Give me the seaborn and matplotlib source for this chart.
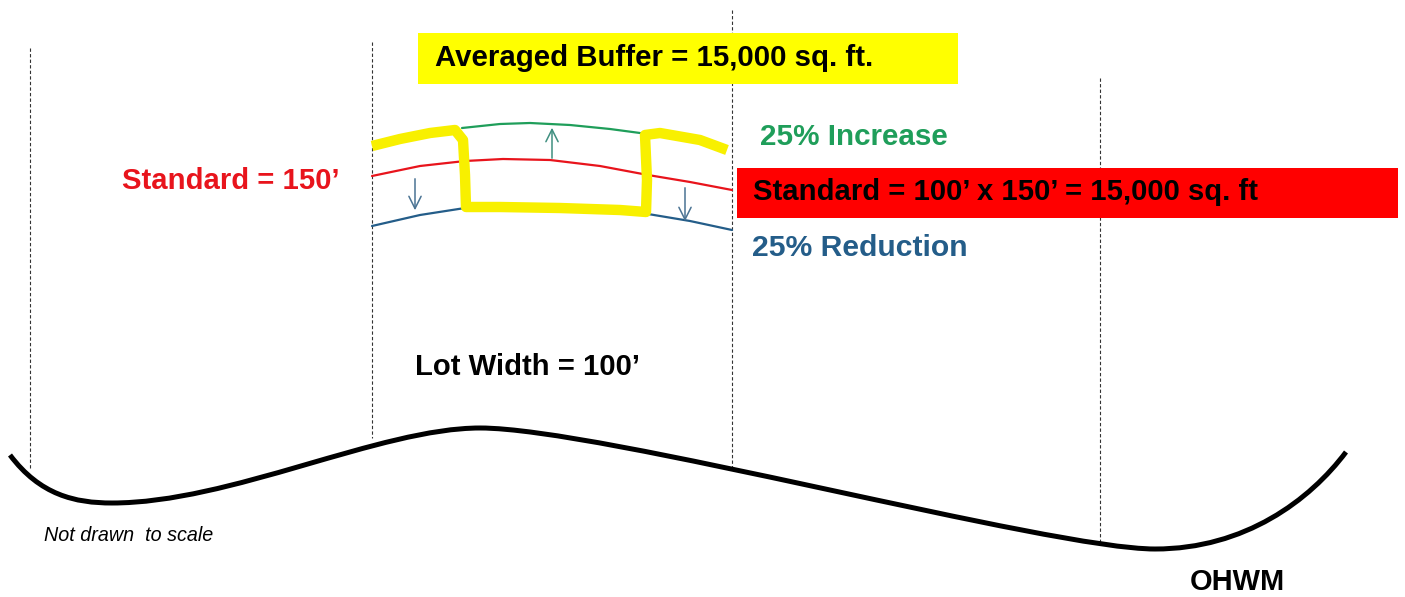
import numpy as np
import pandas as pd
import seaborn as sns
import matplotlib.pyplot as plt
from matplotlib.path import Path
from matplotlib.patches import PathPatch, Rectangle

# Diagram is laid out in image pixel units (x to the right, y downwards)

# Lot lines (dashed verticals)
lot_x = [30, 372, 732, 1100]
lot_top = [48, 42, 10, 78]
lot_bottom = [470, 438, 468, 545]

# Shoreline (OHWM), cubic bezier control points
shore_pts = [(10, 455), (40, 495), (75, 503), (112, 503),
             (230, 503), (380, 428), (480, 428),
             (600, 428), (1050, 549), (1155, 549),
             (1245, 549), (1310, 500), (1346, 452)]

# Buffer lines across the middle lot
standard_x = [372, 420, 465, 503, 550, 600, 648, 690, 732]
standard_y = [176, 166, 161, 159, 160, 166, 175, 182, 190]
increase_x = [462, 500, 530, 570, 610, 640]
increase_y = [128, 124, 123, 125, 129, 133]
reduce_left_x = [372, 420, 465]
reduce_left_y = [226, 215, 208]
reduce_right_x = [648, 690, 732]
reduce_right_y = [214, 221, 230]

# Averaged buffer (yellow highlighter stroke)
avg_x = [372, 400, 430, 455, 463, 465, 466, 500, 560, 620, 646, 647, 645, 660, 700, 727]
avg_y = [146, 139, 133, 130, 140, 175, 207, 207, 208, 210, 212, 180, 135, 133, 140, 150]

# Arrows: (x, y_from, y_to, colour)
arrows = [(552, 161, 125, '#3f8f80'),
          (415, 176, 213, '#4a7393'),
          (685, 185, 224, '#4a7393')]

# Labels: (text, left x, right x, baseline y, colour, style)
labels = [
    ('Averaged Buffer = 15,000 sq. ft.', 435, 872, 66, 'black', 'bold'),
    ('25% Increase', 760, 948, 145, '#1f9e5a', 'bold'),
    ('Standard = 100\u2019 x 150\u2019 = 15,000 sq. ft', 753, 1257, 200, 'black', 'bold'),
    ('25% Reduction', 752, 968, 256, '#245d89', 'bold'),
    ('Standard = 150\u2019', 122, 339, 189, '#e8141c', 'bold'),
    ('Lot Width = 100\u2019', 415, 640, 375, 'black', 'bold'),
    ('OHWM', 1190, 1285, 590, 'black', 'bold'),
    ('Not drawn  to scale', 44, 213, 541, 'black', 'italic'),
]

sns.set_style('white')
plt.rcParams['font.family'] = ['Liberation Sans', 'DejaVu Sans']

fig = plt.figure(figsize=(14.05, 5.97), dpi=100)
ax = fig.add_axes([0, 0, 1, 1])
ax.set_xlim(0, 1405)
ax.set_ylim(597, 0)
ax.axis('off')

# dashed lot lines
ax.vlines(lot_x, lot_top, lot_bottom, colors='#333333', linewidth=0.8,
          linestyles=(0, (3, 2)), zorder=1)

# shoreline
codes = [Path.MOVETO] + [Path.CURVE4] * (len(shore_pts) - 1)
ax.add_patch(PathPatch(Path(shore_pts, codes), facecolor='none',
                       edgecolor='black', linewidth=3.6, zorder=3))

# boxes behind labels
ax.add_patch(Rectangle((418, 33), 540, 51, facecolor='#ffff00',
                       edgecolor='none', zorder=2))
ax.add_patch(Rectangle((737, 168), 661, 50, facecolor='#ff0000',
                       edgecolor='none', zorder=2))

# buffer lines
sns.lineplot(x=standard_x, y=standard_y, sort=False, estimator=None,
             color='#e8141c', linewidth=1.6, ax=ax)
sns.lineplot(x=increase_x, y=increase_y, sort=False, estimator=None,
             color='#1f9e5a', linewidth=1.6, ax=ax)
for xs, ys in [(reduce_left_x, reduce_left_y), (reduce_right_x, reduce_right_y)]:
    sns.lineplot(x=xs, y=ys, sort=False, estimator=None,
                 color='#245d89', linewidth=1.6, ax=ax)

# highlighter stroke
sns.lineplot(x=avg_x, y=avg_y, sort=False, estimator=None, color='#f8f000',
             linewidth=7.5, solid_capstyle='butt', solid_joinstyle='round',
             ax=ax, zorder=4)

for x, y0, y1, c in arrows:
    ax.annotate('', xy=(x, y1), xytext=(x, y0),
                arrowprops=dict(arrowstyle='->', color=c, lw=1.1,
                                mutation_scale=22), zorder=5)

# text, sized so each label spans its width in the reference
fig.canvas.draw()
renderer = fig.canvas.get_renderer()
for s, x0, x1, yb, c, style in labels:
    kw = dict(fontweight='bold') if style == 'bold' else dict(fontstyle='italic')
    t = ax.text(x0, yb, s, color=c, fontsize=20, va='baseline', ha='left',
                zorder=6, **kw)
    w = t.get_window_extent(renderer).width
    t.set_fontsize(20 * (x1 - x0) / w)

fig.savefig('out.png', dpi=100)
